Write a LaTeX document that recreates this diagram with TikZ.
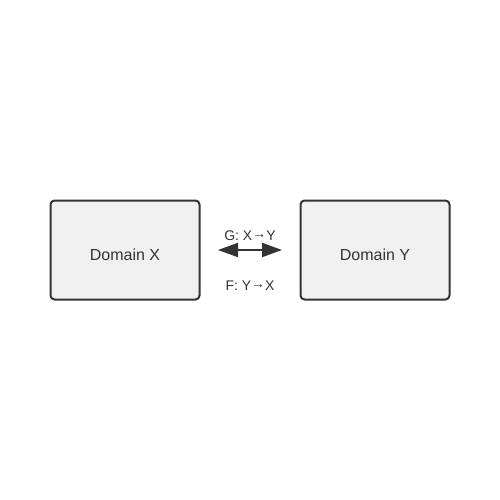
\documentclass[tikz,border=0pt]{standalone}
\usepackage{fontspec}
\setmainfont{Liberation Sans}
\usetikzlibrary{arrows.meta,positioning}
\definecolor{boxfill}{HTML}{F0F0F0}
\definecolor{ink}{HTML}{333333}
\newcommand{\maparrow}{\raisebox{1.8pt}{→}}

\begin{document}
\begin{tikzpicture}[
	x=1pt,
	y=-1pt,
	>={Triangle[length=20pt,width=14pt]},
	domain node/.style={rectangle,rounded corners=4pt,draw=ink,fill=boxfill,line width=2pt,minimum width=149pt,minimum height=99pt,text height=20pt,text depth=0pt,text=ink,font=\fontsize{16}{18}\selectfont},
	map node/.style={anchor=base,text=ink,font=\fontsize{14}{16}\selectfont}
]
\useasboundingbox (0,0) rectangle (500,500);

\node[domain node] (x) at (125,250) {Domain X};
\node[domain node] (y) [right=99pt of x] {Domain Y};

\draw[<->,draw=ink,fill=ink,line width=2pt,shorten <=17.5pt,shorten >=17.5pt] (x) -- (y);

\node[map node] (g) at (250,240) {G: X\maparrow Y};
\node[map node] (f) at (250,290) {F: Y\maparrow X};
\end{tikzpicture}
\end{document}
